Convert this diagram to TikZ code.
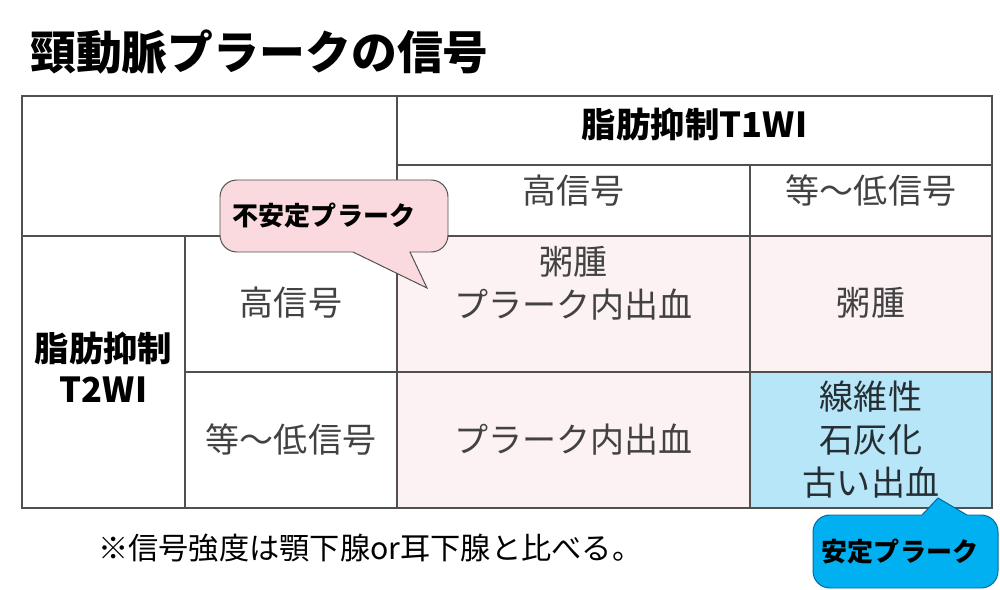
\documentclass[tikz,border=0pt]{standalone}
\usepackage{fontspec}
\setmainfont{Noto Sans CJK JP}
\definecolor{cellpink}{RGB}{253,242,243}
\definecolor{cellblue}{RGB}{183,230,248}
\definecolor{notepink}{RGB}{250,218,222}
\definecolor{noteblue}{RGB}{0,176,240}
\definecolor{noteblueline}{RGB}{0,105,160}
\definecolor{gridgray}{RGB}{80,80,80}
\definecolor{textgray}{RGB}{66,66,66}
\tikzset{
  cell/.style={text=textgray,align=center,inner sep=0pt,font=\fontsize{24.2}{30.6}\selectfont},
  head/.style={text=black,align=center,inner sep=0pt,font=\bfseries\fontsize{24.5}{29.5}\selectfont},
  grid/.style={gridgray,line width=0.9pt},
  notetext/.style={text=black,inner sep=0pt,font=\bfseries\fontsize{18.5}{22}\selectfont},
}
\begin{document}
\begin{tikzpicture}[x=0.025cm,y=-0.025cm]
% Parameters
\def\colA{22}
\def\colB{185}
\def\colC{397}
\def\colD{750}
\def\colE{992}
\def\rowA{96}
\def\rowB{165}
\def\rowC{236}
\def\rowD{372}
\def\rowE{508}
\def\corner{12}

\pgfmathsetmacro\midAB{(\colA+\colB)/2}
\pgfmathsetmacro\midBC{(\colB+\colC)/2}
\pgfmathsetmacro\midCD{(\colC+\colD)/2}
\pgfmathsetmacro\midDE{(\colD+\colE)/2}
\pgfmathsetmacro\midCE{(\colC+\colE)/2}

\useasboundingbox (0,0) rectangle (1000,590);

% Title
\node[anchor=west,inner sep=0pt,font=\bfseries\fontsize{32.6}{38}\selectfont] (title) at (30,52){頸動脈プラークの信号};

% Cell fills
\fill[cellpink] (\colC,\rowC) rectangle (\colE,\rowD);
\fill[cellpink] (\colC,\rowD) rectangle (\colD,\rowE);
\fill[cellblue] (\colD,\rowD) rectangle (\colE,\rowE);

% Grid
\draw[grid] (\colA,\rowA) rectangle (\colE,\rowE);
\draw[grid] (\colC,\rowA) -- (\colC,\rowE);
\draw[grid] (\colB,\rowC) -- (\colB,\rowE);
\draw[grid] (\colD,\rowB) -- (\colD,\rowE);
\draw[grid] (\colC,\rowB) -- (\colE,\rowB);
\draw[grid] (\colA,\rowC) -- (\colE,\rowC);
\draw[grid] (\colB,\rowD) -- (\colE,\rowD);

% Headers
\node[head] (t1Head) at (\midCE,124){脂肪抑制T1WI};
\node[cell] (t1High) at (\midCD,191){高信号};
\node[cell] (t1Low) at (\midDE,191){等～低信号};
\node[head] (t2Head) at (\midAB,367){脂肪抑制\\T2WI};
\node[cell] (t2High) at (\midBC,303){高信号};
\node[cell] (t2Low) at (\midBC,440){等～低信号};

% Cells
\node[cell] (highHigh) at (\midCD,283){粥腫\\プラーク内出血};
\node[cell] (highLow) at (\midDE,303){粥腫};
\node[cell] (lowHigh) at (\midCD,440){プラーク内出血};
\node[cell,text=black!80!cellblue] (lowLow) at (\midDE,440){線維性\\石灰化\\古い出血};

% Footnote
\node[anchor=west,inner sep=0pt,font=\fontsize{21.5}{25}\selectfont] (note) at (98,548){※信号強度は顎下腺or耳下腺と比べる。};

% Unstable plaque
\draw[fill=notepink,draw=gridgray,line width=0.7pt] (353,252) [rounded corners=\corner] -- (220,252) -- (220,180) -- (448,180) -- (448,252) [sharp corners] -- (410,252) -- (427,288) -- cycle;
\node[notetext] (unstable) at (324,216){不安定プラーク};

% Stable plaque
\draw[fill=noteblue,draw=noteblueline,line width=0.7pt] (922,515) [rounded corners=\corner] -- (813,515) -- (813,588) -- (998,588) -- (998,515) [sharp corners] -- (967,515) -- (938,498) -- cycle;
\node[notetext] (stable) at (900,552){安定プラーク};
\end{tikzpicture}
\end{document}
